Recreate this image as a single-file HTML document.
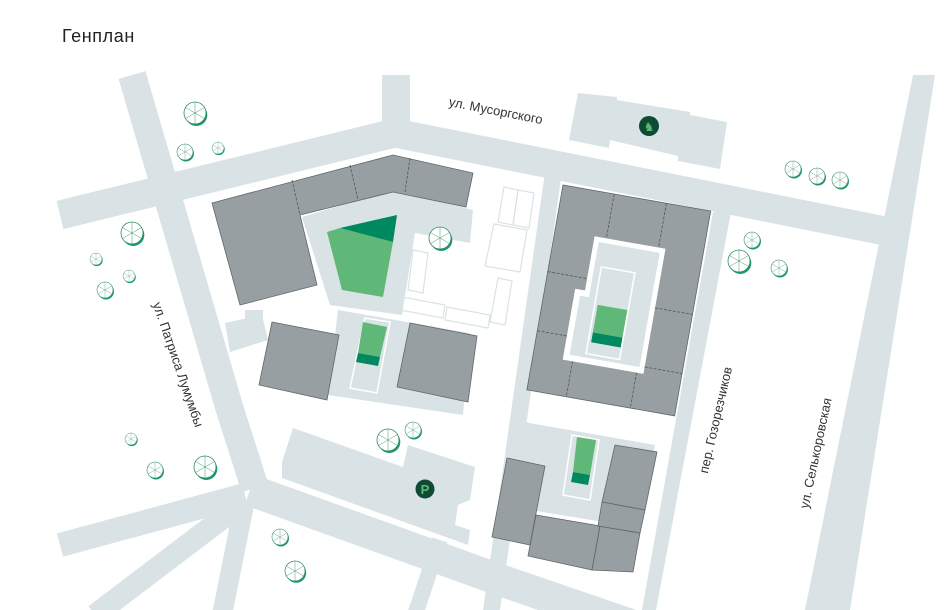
<!DOCTYPE html>
<html><head><meta charset="utf-8"><style>
html,body{margin:0;padding:0;background:#fff;width:944px;height:610px;overflow:hidden;}
svg{display:block}
text{font-family:"Liberation Sans",sans-serif;}
</style></head><body>
<svg width="944" height="610" viewBox="0 0 944 610" xmlns="http://www.w3.org/2000/svg">
<defs>
<g id="tree">
<circle cx="0.12" cy="0.18" r="1" fill="#1a9a6a"/>
<circle cx="0" cy="0" r="1" fill="#fff" stroke="#2a8a5e" stroke-width="0.07"/>
<path d="M0 0L0 -1M0 0L0.87 -0.5M0 0L0.87 0.5M0 0L0 1M0 0L-0.87 0.5M0 0L-0.87 -0.5" stroke="#2a8a5e" stroke-width="0.04"/>
</g>
</defs>
<text x="62" y="42" font-size="18" fill="#222" letter-spacing="0.6">Генплан</text>

<g fill="#d9e3e6" stroke="none">
<polyline points="132,75 230,410 255,488" fill="none" stroke="#d9e3e6" stroke-width="28"/>
<polyline points="60,215 395,133 890,232" fill="none" stroke="#d9e3e6" stroke-width="29"/>
<rect x="382" y="75" width="28" height="65"/>
<polygon points="913,75 935,75 850,610 805,610"/>
<polygon points="713,212 731,212 656,610 642,610"/>
<polygon points="545,172 562,172 500,610 483,610"/>
<polyline points="250,490 500,580 680,642" fill="none" stroke="#d9e3e6" stroke-width="32"/>
<polyline points="245,495 60,545" fill="none" stroke="#d9e3e6" stroke-width="24"/>
<polyline points="240,505 95,615" fill="none" stroke="#d9e3e6" stroke-width="22"/>
<polyline points="245,500 222,615" fill="none" stroke="#d9e3e6" stroke-width="20"/>
<polyline points="440,540 415,615" fill="none" stroke="#d9e3e6" stroke-width="16"/>
<polygon points="225,323 262,315 268,340 230,352"/>
<rect x="245" y="310" width="18" height="30"/>
<polygon points="578,93 617,97 617,100 690,112 690,115 727,122 720,169 678,161 678,156 610,140 609,148 569,140"/>
<polygon points="302,217 393,190 473,210 470,243 415,233 402,315 330,305"/>
<polygon points="338,310 470,333 463,415 328,395"/>
<polygon points="293,428 403,467 408,445 475,467 470,500 458,505 455,525 470,530 468,545 282,478 282,462"/>
<polygon points="512,420 655,445 640,528 500,505"/>
</g>

<g fill="none" stroke="#d9e3e6" stroke-width="1.2">
<polygon points="504,187 518,190 513,225 498,222"/>
<polygon points="518,190 534,193 529,228 513,225"/>
<polygon points="494,224 527,230 520,272 485,266"/>
<polygon points="498,278 512,281 505,325 490,322"/>
<polygon points="413,250 428,253 423,293 408,290"/>
<polygon points="402,297 445,305 443,318 400,310"/>
<polygon points="447,307 490,315 488,328 445,320"/>
<polygon points="512,420 528,423 526,438 510,435"/>
<polygon points="530,425 555,429 552,452 526,448"/>
<polygon points="365,318 390,322 377,393 350,388" stroke="#fff" stroke-width="1.5"/>
<polygon points="572,435 599,440 590,500 563,495" stroke="#fff" stroke-width="1.5"/>
</g>

<g fill="#979fa3" stroke="#5f676b" stroke-width="0.8">
<polygon points="212,203 393,155 473,173 466,207 393,192 300,215 317,285 240,305"/>
<polygon points="272,322 339,335 327,400 259,385"/>
<polygon points="410,323 477,336 468,402 397,387"/>
<polygon points="507,458 545,466 530,545 492,537"/>
<polygon points="536,515 600,526 592,570 528,556"/>
<polygon points="600,526 640,533 633,572 592,570"/>
<polygon points="615,445 657,452 645,510 602,502"/>
<polygon points="602,502 645,510 640,533 598,526"/>
</g>
<g stroke="#4f575b" stroke-width="0.8" stroke-dasharray="3,1.5">
<line x1="292" y1="180" x2="300" y2="215"/>
<line x1="350" y1="165" x2="358" y2="200"/>
<line x1="410" y1="158" x2="405" y2="192"/>
</g>

<g transform="translate(563,185) rotate(10)">
<rect x="0" y="0" width="150" height="208" fill="#979fa3" stroke="#5f676b" stroke-width="0.8"/>
<polygon points="40,45 112,45 112,172 30,172 30,100 40,100" fill="#fff"/>
<polygon points="45,50 107,50 107,166 36,166 36,106 45,106" fill="#d9e3e6"/>
<rect x="52" y="74" width="34" height="88" fill="none" stroke="#fff" stroke-width="1.5"/>
<rect x="55" y="112" width="30" height="28" fill="#5fb877"/>
<rect x="55" y="140" width="30" height="10" fill="#00895f"/>
<g stroke="#4f575b" stroke-width="0.8" stroke-dasharray="3,1.5">
<line x1="52" y1="0" x2="52" y2="45"/><line x1="105" y1="0" x2="105" y2="45"/>
<line x1="0" y1="88" x2="40" y2="88"/><line x1="0" y1="148" x2="30" y2="148"/>
<line x1="112" y1="105" x2="150" y2="105"/><line x1="112" y1="165" x2="150" y2="165"/>
<line x1="40" y1="172" x2="40" y2="208"/><line x1="105" y1="172" x2="105" y2="208"/>
</g>
</g>

<polygon points="327,232 340,228 393,242 383,297 342,290" fill="#5fb877"/>
<polygon points="340,228 397,215 393,242" fill="#00895f"/>
<polygon points="363,322 387,327 380,357 358,353" fill="#5fb877"/>
<polygon points="358,353 380,357 378,366 356,362" fill="#00895f"/>
<polygon points="577,437 596,440 590,475 573,472" fill="#5fb877"/>
<polygon points="573,472 590,475 588,485 571,482" fill="#00895f"/>

<g>
<use href="#tree" transform="translate(195,113) scale(11)"/>
<use href="#tree" transform="translate(185,152) scale(8)"/>
<use href="#tree" transform="translate(218,148) scale(6)"/>
<use href="#tree" transform="translate(132,233) scale(11)"/>
<use href="#tree" transform="translate(96,259) scale(6)"/>
<use href="#tree" transform="translate(129,276) scale(6)"/>
<use href="#tree" transform="translate(105,290) scale(8)"/>
<use href="#tree" transform="translate(440,238) scale(11)"/>
<use href="#tree" transform="translate(793,169) scale(8)"/>
<use href="#tree" transform="translate(817,176) scale(8)"/>
<use href="#tree" transform="translate(840,180) scale(8)"/>
<use href="#tree" transform="translate(752,240) scale(8)"/>
<use href="#tree" transform="translate(739,261) scale(11)"/>
<use href="#tree" transform="translate(779,268) scale(8)"/>
<use href="#tree" transform="translate(388,440) scale(11)"/>
<use href="#tree" transform="translate(413,430) scale(8)"/>
<use href="#tree" transform="translate(131,439) scale(6)"/>
<use href="#tree" transform="translate(155,470) scale(8)"/>
<use href="#tree" transform="translate(205,467) scale(11)"/>
<use href="#tree" transform="translate(280,537) scale(8)"/>
<use href="#tree" transform="translate(295,571) scale(10)"/>
</g>

<circle cx="649" cy="126" r="10" fill="#0f4a32"/>
<text x="649" y="131" font-size="12" fill="#5fb877" text-anchor="middle">♞</text>
<circle cx="425" cy="489" r="9.5" fill="#0f4a32"/>
<text x="425" y="494" font-size="13" font-weight="bold" fill="#5fb877" text-anchor="middle">P</text>

<g font-size="13" fill="#333">
<text transform="translate(495,115) rotate(11)" text-anchor="middle">ул. Мусоргского</text>
<text transform="translate(174,366) rotate(71)" text-anchor="middle">ул. Патриса Лумумбы</text>
<text transform="translate(720,421) rotate(-77)" text-anchor="middle">пер. Гозорезчиков</text>
<text transform="translate(820,454) rotate(-78)" text-anchor="middle">ул. Селькоровская</text>
</g>
</svg>
</body></html>
